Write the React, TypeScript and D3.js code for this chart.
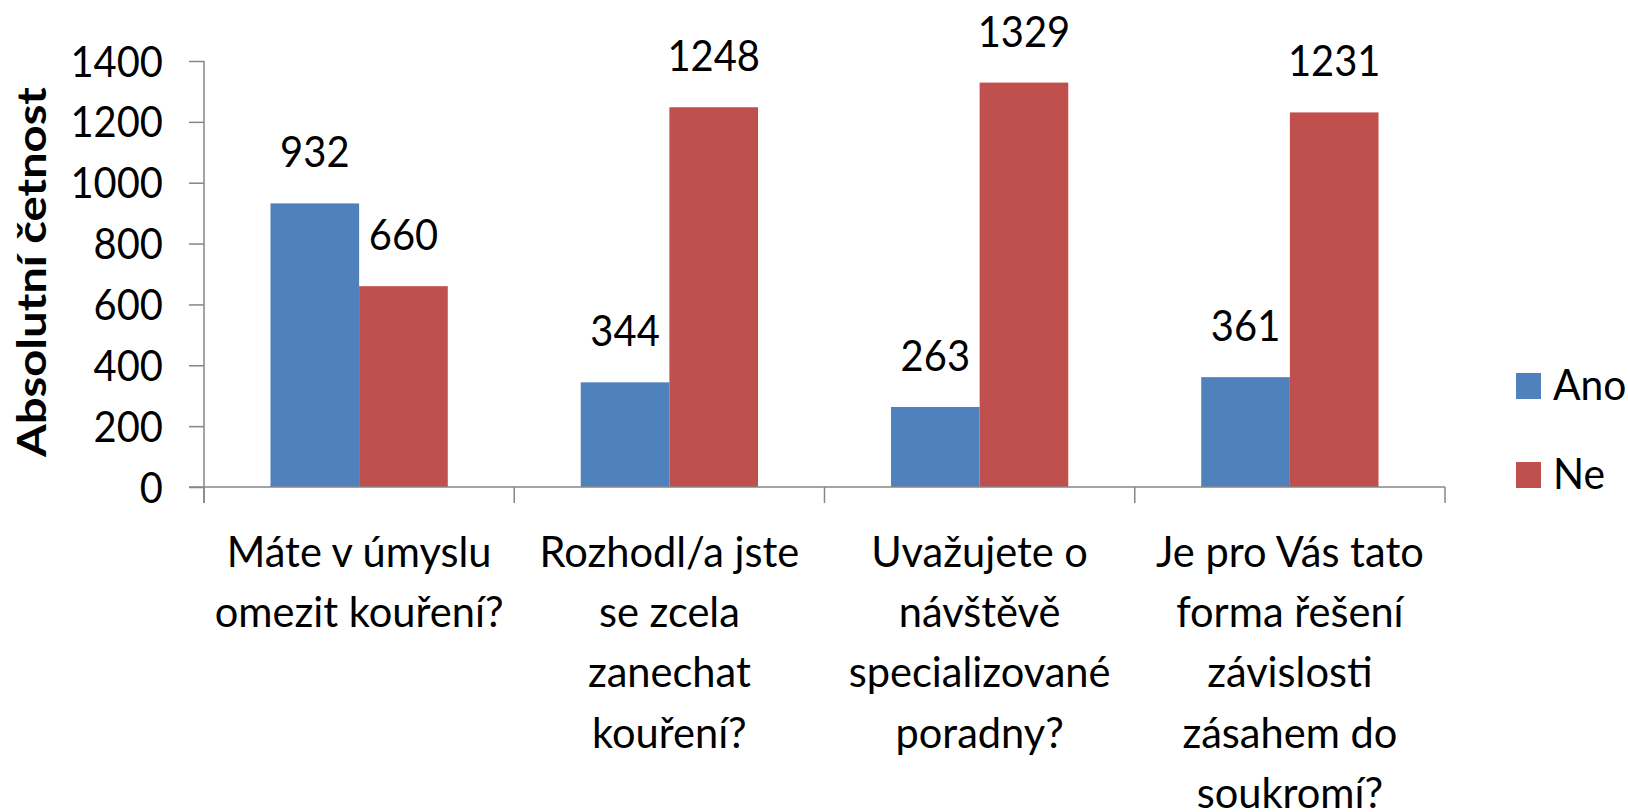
import React, { useRef, useEffect } from "react";
import * as d3 from "d3";

// Categories (x axis labels, already broken into lines as in the picture)
const categories = ["q1", "q2", "q3", "q4"];
const categoryLines: string[][] = [
  ["Máte v úmyslu", "omezit kouření?"],
  ["Rozhodl/a jste", "se zcela", "zanechat", "kouření?"],
  ["Uvažujete o", "návštěvě", "specializované", "poradny?"],
  ["Je pro Vás tato", "forma řešení", "závislosti", "zásahem do", "soukromí?"],
];

const seriesNames = ["Ano", "Ne"];
const anoValues = [932, 344, 263, 361];
const neValues = [660, 1248, 1329, 1231];
const yTicks = [0, 200, 400, 600, 800, 1000, 1200, 1400];

const colors = ["#4F81BD", "#C0504D"];
const axisColor = "#868686";
const FONT = "Lato, 'Open Sans', sans-serif";
const SX_NUM = 0.95; // horizontal squeeze for numbers
const SX_TXT = 0.99;

const Chart: React.FC = () => {
  const ref = useRef<SVGSVGElement | null>(null);

  useEffect(() => {
    if (!ref.current) return;
    const root = d3.select(ref.current);
    root.selectAll("*").remove();

    const width = 1628;
    const height = 812;
    const plot = { left: 204, right: 1445, top: 61, bottom: 487 };

    root.attr("width", width).attr("height", height);
    const svg = root.append("g");

    const x = d3
      .scaleBand<string>()
      .domain(categories)
      .range([plot.left, plot.right])
      .paddingInner(0)
      .paddingOuter(0);

    const xs = d3
      .scaleBand<string>()
      .domain(seriesNames)
      .range([0, x.bandwidth()])
      .paddingInner(0)
      .paddingOuter(0.75);

    const y = d3.scaleLinear().domain([0, 1400]).range([plot.bottom, plot.top]);

    const addText = (
      g: d3.Selection<SVGGElement, unknown, null, undefined>,
      px: number,
      py: number,
      str: string,
      anchor: string,
      sx: number,
      size = 42,
      weight = "normal"
    ) =>
      g
        .append("text")
        .attr("transform", `translate(${px},${py}) scale(${sx},1)`)
        .attr("text-anchor", anchor)
        .style("font-family", FONT)
        .style("font-size", `${size}px`)
        .style("font-weight", weight)
        .style("fill", "#000")
        .text(str);

    // Y axis
    const yAxis = svg
      .append("g")
      .attr("transform", `translate(${plot.left},0)`)
      .call(
        d3
          .axisLeft(y)
          .tickValues(yTicks)
          .tickFormat(d3.format("d"))
          .tickSize(15)
          .tickSizeOuter(0)
      );
    yAxis.select(".domain").remove();
    yAxis.selectAll("line").attr("stroke", axisColor).attr("stroke-width", 1.5);
    yAxis
      .selectAll<SVGTextElement, number>("text")
      .attr("x", null)
      .attr("dy", "0.36em")
      .attr("transform", `translate(-41,0) scale(${SX_NUM},1)`)
      .style("font-family", FONT)
      .style("font-size", "42px")
      .attr("fill", "#000");
    svg
      .append("line")
      .attr("x1", plot.left)
      .attr("x2", plot.left)
      .attr("y1", y(1400))
      .attr("y2", plot.bottom + 16)
      .attr("stroke", axisColor)
      .attr("stroke-width", 1.5);

    // Bars
    const series = [anoValues, neValues];
    series.forEach((vals, si) => {
      svg
        .selectAll(`.bar-${si}`)
        .data(vals)
        .enter()
        .append("rect")
        .attr("class", `bar-${si}`)
        .attr("x", (_, i) => x(categories[i])! + xs(seriesNames[si])!)
        .attr("y", (d) => y(d))
        .attr("width", xs.bandwidth())
        .attr("height", (d) => y(0) - y(d))
        .attr("fill", colors[si]);

      // value labels
      vals.forEach((v, i) => {
        addText(
          svg,
          x(categories[i])! + xs(seriesNames[si])! + xs.bandwidth() / 2,
          y(v) - 36,
          String(v),
          "middle",
          SX_NUM
        );
      });
    });

    // X axis line and boundary ticks
    svg
      .append("line")
      .attr("x1", plot.left - 15)
      .attr("x2", plot.right)
      .attr("y1", y(0))
      .attr("y2", y(0))
      .attr("stroke", axisColor)
      .attr("stroke-width", 1.5);
    const bounds = [...categories.map((c) => x(c)!), plot.right];
    bounds.forEach((bx) => {
      svg
        .append("line")
        .attr("x1", bx)
        .attr("x2", bx)
        .attr("y1", y(0))
        .attr("y2", y(0) + 16)
        .attr("stroke", axisColor)
        .attr("stroke-width", 1.5);
    });

    // Category labels
    categoryLines.forEach((lines, i) => {
      const cx = x(categories[i])! + x.bandwidth() / 2;
      lines.forEach((ln, li) => {
        addText(svg, cx, 567 + li * 60.2, ln, "middle", SX_TXT);
      });
    });

    // Y axis title
    const title = svg.append("g").attr("transform", "translate(46,272) rotate(-90)");
    addText(title, 0, 0, "Absolutní četnost", "middle", 1.15, 41, "bold");

    // Legend
    seriesNames.forEach((name, si) => {
      const ly = 373 + si * 89;
      svg
        .append("rect")
        .attr("x", 1516)
        .attr("y", ly)
        .attr("width", 25)
        .attr("height", 26)
        .attr("fill", colors[si]);
      addText(svg, 1553, ly + 27, name, "start", 0.97);
    });
  }, []);

  return <svg ref={ref} style={{ position: "absolute", left: 0, top: 0 }} />;
};

export default function App() {
  return <Chart />;
}
